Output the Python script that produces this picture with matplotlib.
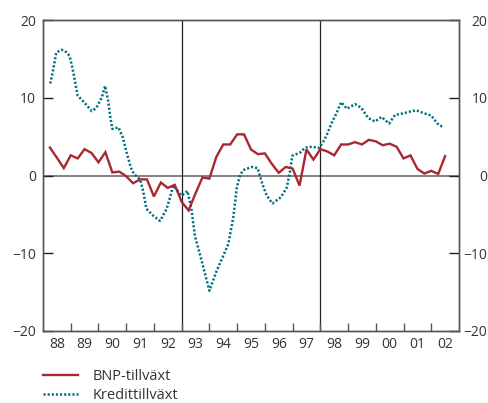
import numpy as np
import matplotlib
matplotlib.use('Agg')
import matplotlib.pyplot as plt
from matplotlib.ticker import FixedLocator, NullFormatter

plt.rcParams['font.family'] = ['Open Sans', 'DejaVu Sans']

# BNP-tillväxt, quarterly (end of quarter), 1988Q1 - 2002Q2
bnp_start = 1988.25
bnp = [3.6, 2.3, 0.95,
       2.6, 2.2, 3.4, 2.9,
       1.7, 3.0, 0.4, 0.5,
       -0.1, -1.0, -0.5, -0.5,
       -2.7, -0.9, -1.6, -1.2,
       -3.4, -4.5, -2.3, -0.25,
       -0.4, 2.4, 4.0, 4.0,
       5.3, 5.3, 3.35, 2.75,
       2.85, 1.5, 0.35, 1.1,
       0.9, -1.3, 3.35, 2.05,
       3.4, 3.1, 2.6, 4.0,
       4.0, 4.3, 4.0, 4.6,
       4.4, 3.9, 4.1, 3.7,
       2.2, 2.6, 0.85, 0.25,
       0.6, 0.2, 2.5]

# Kredittillväxt
kredit_t = [1988.26, 1988.36, 1988.48, 1988.67, 1988.84, 1988.96, 1989.06, 1989.15,
            1989.25, 1989.44, 1989.76, 1989.92, 1990.12, 1990.24, 1990.35, 1990.43,
            1990.50, 1990.72, 1990.88, 1991.03, 1991.17, 1991.28, 1991.50, 1991.61,
            1991.73, 1991.98, 1992.22, 1992.46, 1992.70, 1993.00, 1993.21, 1993.35,
            1993.48, 1993.72, 1994.00, 1994.26, 1994.68, 1994.86, 1994.99, 1995.10,
            1995.22, 1995.53, 1995.74, 1995.91, 1996.07, 1996.27, 1996.58, 1996.79,
            1996.91, 1996.99, 1997.27, 1997.45, 1997.71, 1997.95, 1998.14, 1998.24,
            1998.41, 1998.58, 1998.75, 1998.96, 1999.25, 1999.47, 1999.73, 1999.97,
            2000.21, 2000.48, 2000.69, 2000.98, 2001.25, 2001.46, 2001.75, 2001.99,
            2002.26, 2002.45]
kredit = [11.85, 13.5, 15.85, 16.2, 15.9, 15.4, 13.9, 12.2,
          10.3, 9.6, 8.3, 8.7, 10.05, 11.55, 9.6, 7.5,
          6.0, 6.2, 4.9, 2.75, 1.0, 0.2, -0.5, -2.0,
          -4.3, -5.2, -5.85, -4.3, -1.3, -2.6, -2.0, -4.3,
          -7.8, -11.0, -14.85, -12.3, -8.85, -5.4, -1.5, 0.0,
          0.7, 1.1, 0.95, -1.1, -2.6, -3.6, -2.8, -1.55,
          0.6, 2.55, 2.95, 3.6, 3.7, 3.55, 4.55, 5.3,
          6.8, 8.0, 9.45, 8.6, 9.2, 8.75, 7.4, 6.95,
          7.55, 6.7, 7.8, 8.0, 8.25, 8.4, 8.0, 7.75,
          6.55, 6.2]

year_labels = ['88', '89', '90', '91', '92', '93', '94', '95',
               '96', '97', '98', '99', '00', '01', '02']
yticks = [-20, -10, 0, 10, 20]
ytick_labels = ['\u221220', '\u221210', '0', '10', '20']
sLabel_bnp = 'BNP-tillväxt'
sLabel_kredit = 'Kredittillväxt'

color_bnp = '#a8282f'
color_kredit = '#006f7f'
color_text = '#333333'
color_frame = '#555555'
fs = 10
fs_legend = 10.5

bnp_t = bnp_start + 0.25 * np.arange(len(bnp))

fig = plt.figure(figsize=(4.88, 4.03), dpi=100)
ax = fig.add_axes([0.0881, 0.1794, 0.8525, 0.7702])

ax.set_xlim(1988, 2003)
ax.set_ylim(-20, 20)

ax.axhline(0, color='#777777', lw=1.3, zorder=1)
for x in [1993, 1998]:
    ax.axvline(x, color='#222222', lw=0.9, zorder=1)

l1, = ax.plot(bnp_t, bnp, color=color_bnp, lw=1.7, solid_joinstyle='miter',
              zorder=3, label=sLabel_bnp)
l2, = ax.plot(kredit_t, kredit, color=color_kredit, lw=1.8,
              linestyle=(0, (0.85, 0.8)), zorder=2, label=sLabel_kredit)

for s in ax.spines.values():
    s.set_color(color_frame)
    s.set_linewidth(1.0)

# x axis: year boundary ticks, labels centred in each year
ax.xaxis.set_major_locator(FixedLocator(np.arange(1989, 2003)))
ax.xaxis.set_major_formatter(NullFormatter())
ax.xaxis.set_minor_locator(FixedLocator(np.arange(1988, 2003) + 0.5))
ax.set_xticklabels(year_labels, minor=True)
ax.tick_params(axis='x', which='major', direction='in', length=5.8, width=1.0,
               color=color_frame)
ax.tick_params(axis='x', which='minor', length=0, pad=4.5, labelsize=fs,
               labelcolor=color_text)

ax.set_yticks(yticks)
ax.set_yticklabels(ytick_labels)
ax.tick_params(axis='y', direction='in', length=7, width=1.0, color='#222222',
               pad=5, labelsize=fs, labelcolor=color_text)

ax2 = ax.twinx()
ax2.set_ylim(-20, 20)
ax2.set_yticks(yticks)
ax2.set_yticklabels(ytick_labels)
ax2.tick_params(axis='y', direction='in', length=7, width=1.0, color='#222222',
                pad=20.5, labelsize=fs, labelcolor=color_text)
for lab in ax2.get_yticklabels():
    lab.set_horizontalalignment('right')
for s in ax2.spines.values():
    s.set_color(color_frame)
    s.set_linewidth(1.0)

fig.legend(handles=[l1, l2], loc='upper left', bbox_to_anchor=(0.0881, 0.085),
           frameon=False, fontsize=fs_legend, handlelength=2.4, handletextpad=1.0,
           labelspacing=0.3, borderpad=0, borderaxespad=0,
           labelcolor=color_text)

fig.savefig('out.png', dpi=100)
